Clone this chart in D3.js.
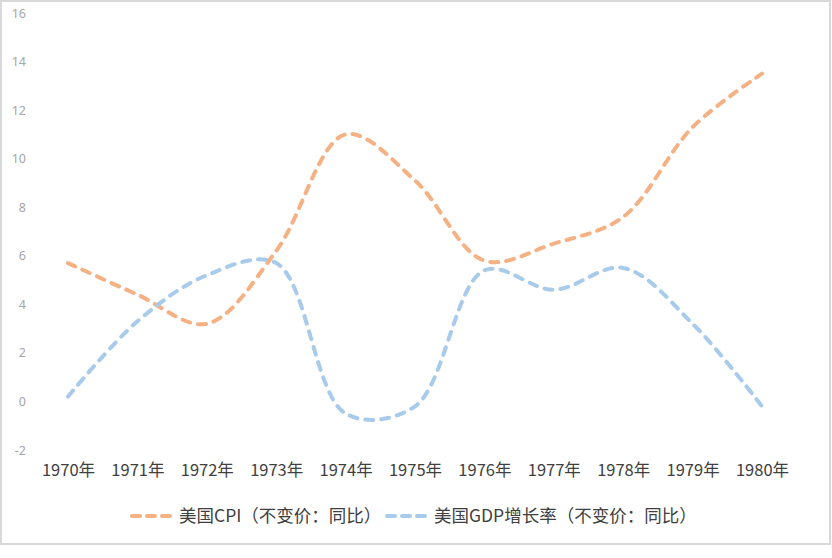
<!DOCTYPE html>
<html>
<head>
<meta charset="utf-8">
<title>CPI vs GDP</title>
<script src="https://cdn.jsdelivr.net/npm/d3@7"></script>
<style>
  body { margin: 0; background: #fff; }
  svg { display: block; font-family: "Noto Sans CJK SC", "Noto Sans", sans-serif; }
</style>
</head>
<body>
<svg id="chart" width="832" height="558"></svg>
<script>
// data
var years = ["1970年","1971年","1972年","1973年","1974年","1975年","1976年","1977年","1978年","1979年","1980年"];
var cpi = [5.7, 4.4, 3.2, 6.2, 11.0, 9.1, 5.8, 6.5, 7.6, 11.3, 13.5];
var gdp = [0.2, 3.3, 5.2, 5.7, -0.5, -0.2, 5.4, 4.6, 5.5, 3.2, -0.2];
var yTicks = [-2, 0, 2, 4, 6, 8, 10, 12, 14, 16];
var seriesNames = ["美国CPI（不变价：同比）", "美国GDP增长率（不变价：同比）"];
var seriesColors = ["#f4b183", "#a9cbeb"];

var svg = d3.select("#chart");

// outer frame
svg.append("rect")
  .attr("x", 1).attr("y", 1)
  .attr("width", 829).attr("height", 543)
  .attr("fill", "#fff")
  .attr("stroke", "#d9d9d9")
  .attr("stroke-width", 2);

var x = d3.scalePoint().domain(years).range([33.3, 796.7]).padding(0.5);
var y = d3.scaleLinear().domain([-2, 16]).range([450, 13]);

// y axis labels (no line, no ticks)
var yAxis = svg.append("g")
  .attr("transform", "translate(26,0)")
  .call(d3.axisLeft(y).tickValues(yTicks).tickSize(0).tickPadding(0)
    .tickFormat(function (d) { return String(d); }));
yAxis.select(".domain").remove();
yAxis.selectAll("text")
  .attr("fill", "#a6a6a6")
  .style("font-size", "12.5px")
  .style("font-family", "'Noto Sans', sans-serif");

// x axis labels
var xAxis = svg.append("g")
  .attr("transform", "translate(0,464)")
  .call(d3.axisBottom(x).tickSize(0).tickPadding(0));
xAxis.select(".domain").remove();
xAxis.selectAll("text")
  .attr("fill", "#404040")
  .style("font-size", "16.5px")
  .style("font-family", "'Noto Sans CJK SC', sans-serif");

var line = d3.line()
  .x(function (d, i) { return x(years[i]); })
  .y(function (d) { return y(d); })
  .curve(d3.curveCatmullRom.alpha(0.5));

[cpi, gdp].forEach(function (s, k) {
  svg.append("path")
    .datum(s)
    .attr("d", line)
    .attr("fill", "none")
    .attr("stroke", seriesColors[k])
    .attr("stroke-width", 4)
    .attr("stroke-dasharray", "8,8")
    .attr("stroke-linecap", "round");
});

// legend
var legendX = [132, 387];
var legend = svg.append("g");
seriesNames.forEach(function (name, k) {
  var g = legend.append("g").attr("transform", "translate(" + legendX[k] + ",516)");
  g.append("line")
    .attr("x1", 0).attr("x2", 40)
    .attr("stroke", seriesColors[k])
    .attr("stroke-width", 4)
    .attr("stroke-dasharray", "8,7")
    .attr("stroke-linecap", "round");
  g.append("text")
    .attr("x", 47)
    .attr("dy", "0.35em")
    .attr("fill", "#404040")
    .style("font-size", "17.5px")
    .text(name);
});
</script>
</body>
</html>
